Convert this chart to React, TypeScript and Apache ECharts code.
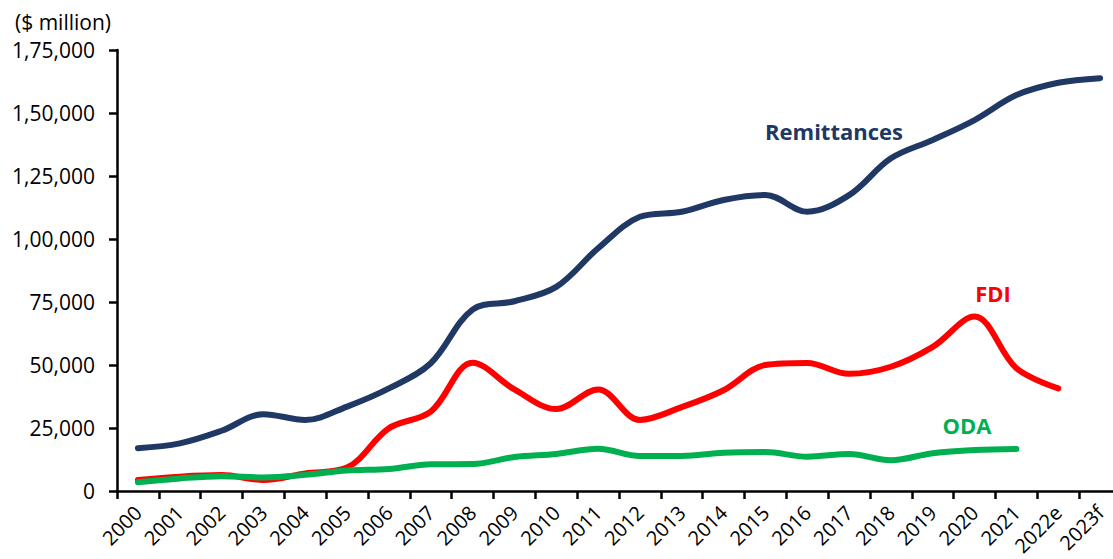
import React, { useEffect, useRef } from "react";
import * as echarts from "echarts";

const categories = [
  "2000", "2001", "2002", "2003", "2004", "2005", "2006", "2007", "2008", "2009",
  "2010", "2011", "2012", "2013", "2014", "2015", "2016", "2017", "2018", "2019",
  "2020", "2021", "2022e", "2023f",
];

const remittances = [
  17000, 18900, 23900, 30500, 28200, 33500, 40700, 50700, 72000, 75300,
  81000, 96300, 108800, 110800, 115500, 117500, 110800, 117400, 132000, 139300,
  147200, 157100, 162000, 163800,
];

const fdi = [
  4400, 5700, 6300, 4400, 7000, 9300, 24900, 31500, 50900, 40300,
  32500, 40300, 28200, 33300, 40000, 50000, 50800, 46500, 49300, 57200,
  69200, 48700, 40700, null,
];

const oda = [
  3500, 5000, 5900, 5400, 6400, 8100, 8700, 10600, 10700, 13500,
  14700, 16800, 13900, 13900, 15200, 15500, 13600, 14700, 12200, 15000,
  16300, 16700, null, null,
];

const yTickLabels = ["0", "25,000", "50,000", "75,000", "1,00,000", "1,25,000", "1,50,000", "1,75,000"];

const FONT = "'Open Sans', 'Liberation Sans', sans-serif";
const NAVY = "#203864";
const RED = "#FF0000";
const GREEN = "#00B050";
const SMOOTH = 0.35;

export default function App() {
  const ref = useRef<HTMLDivElement>(null);
  useEffect(() => {
    const chart = echarts.init(ref.current!, null, { renderer: "svg" });
    const axisLineStyle = { color: "#000", width: 2.5 };
    chart.setOption({
      animation: false,
      backgroundColor: "#fff",
      grid: { left: 117, top: 50, width: 1004, height: 441, containLabel: false, outerBoundsMode: "none" },
      xAxis: {
        type: "category",
        data: categories,
        boundaryGap: true,
        axisLine: { show: true, lineStyle: axisLineStyle },
        axisTick: { show: true, length: 8, lineStyle: axisLineStyle, alignWithLabel: false },
        axisLabel: { interval: 0, rotate: 45, margin: 18, fontSize: 20, fontFamily: FONT, color: "#000" },
        splitLine: { show: false },
      },
      yAxis: {
        type: "value",
        min: 0,
        max: 175000,
        interval: 25000,
        axisLine: { show: true, lineStyle: axisLineStyle },
        axisTick: { show: true, length: 8, lineStyle: axisLineStyle },
        axisLabel: {
          margin: 22,
          fontSize: 21,
          fontFamily: FONT,
          color: "#000",
          formatter: (v: number) => yTickLabels[Math.round(v / 25000)] ?? "",
        },
        splitLine: { show: false },
      },
      series: [
        {
          name: "Remittances", type: "line", data: remittances, smooth: SMOOTH, symbol: "none",
          lineStyle: { color: NAVY, width: 6, cap: "round" }, itemStyle: { color: NAVY }, z: 3,
        },
        {
          name: "FDI", type: "line", data: fdi, smooth: SMOOTH, symbol: "none",
          lineStyle: { color: RED, width: 6, cap: "round" }, itemStyle: { color: RED }, z: 2,
        },
        {
          name: "ODA", type: "line", data: oda, smooth: SMOOTH, symbol: "none",
          lineStyle: { color: GREEN, width: 6, cap: "round" }, itemStyle: { color: GREEN }, z: 4,
        },
      ],
      graphic: [
        {
          type: "text", x: 15, y: 22,
          style: { text: "($ million)", fontSize: 21, fontFamily: FONT, fill: "#000", align: "left", textAlign: "left", verticalAlign: "middle", textVerticalAlign: "middle" },
        },
        {
          type: "text", x: 834, y: 131,
          style: { text: "Remittances", fontSize: 22, fontWeight: "bold", fontFamily: FONT, fill: NAVY, align: "center", textAlign: "center", verticalAlign: "middle", textVerticalAlign: "middle" },
        },
        {
          type: "text", x: 993, y: 293,
          style: { text: "FDI", fontSize: 22, fontWeight: "bold", fontFamily: FONT, fill: RED, align: "center", textAlign: "center", verticalAlign: "middle", textVerticalAlign: "middle" },
        },
        {
          type: "text", x: 967, y: 425,
          style: { text: "ODA", fontSize: 22, fontWeight: "bold", fontFamily: FONT, fill: GREEN, align: "center", textAlign: "center", verticalAlign: "middle", textVerticalAlign: "middle" },
        },
      ],
    });
    return () => chart.dispose();
  }, []);
  return (
    <div
      ref={ref}
      style={{ position: "absolute", left: 0, top: 0, width: 1113, height: 559, background: "#fff", overflow: "hidden" }}
    />
  );
}
